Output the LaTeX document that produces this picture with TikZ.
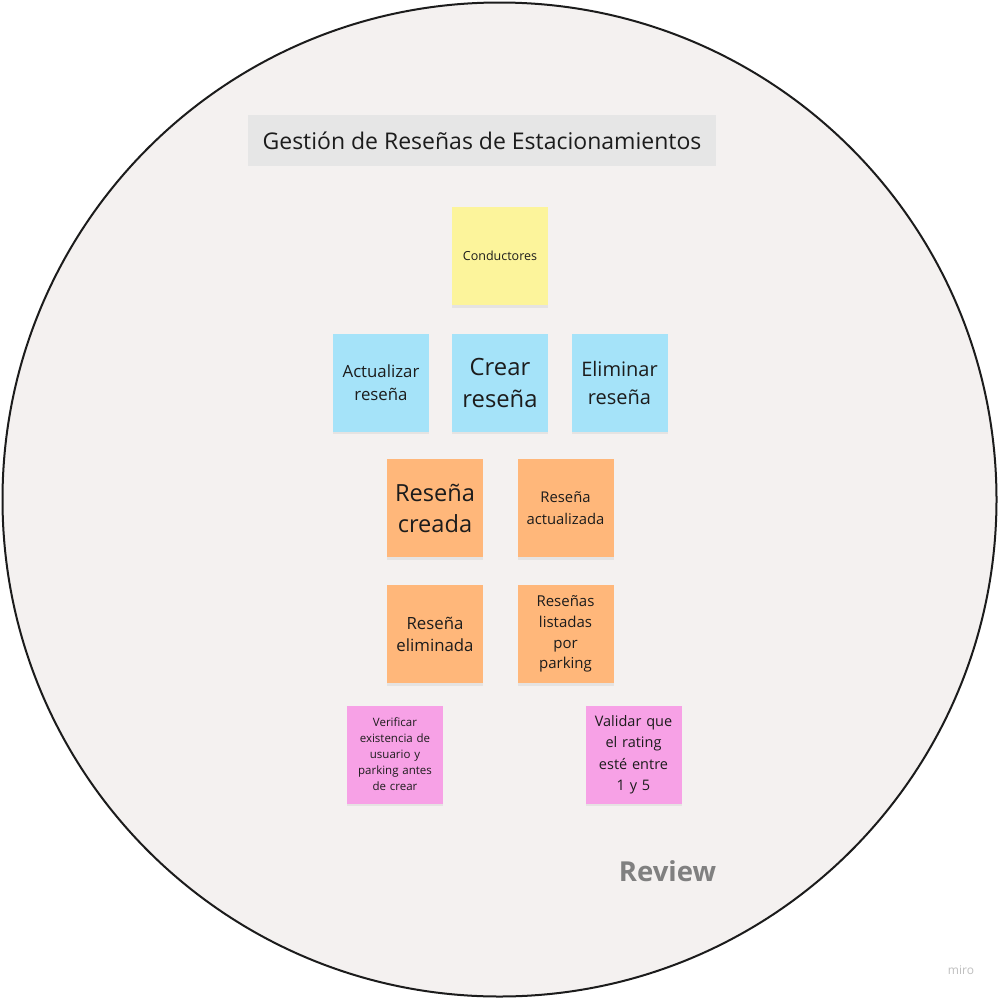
\documentclass[tikz,border=0pt]{standalone}
\usepackage{fontspec}
\setmainfont{Open Sans}
\usepackage{xcolor}
\usetikzlibrary{shadows}

\definecolor{board}{HTML}{F4F1F0}
\definecolor{titlegray}{HTML}{E6E6E6}
\definecolor{ink}{HTML}{1C1C1C}
\definecolor{noteyellow}{HTML}{FCF49B}
\definecolor{noteblue}{HTML}{A5E3F9}
\definecolor{noteorange}{HTML}{FFB77A}
\definecolor{notepink}{HTML}{F7A1E6}

\newcommand{\fsz}[2]{\fontsize{#1}{#2}\selectfont}

\begin{document}
\begin{tikzpicture}[x=1pt, y=-1pt,
  note/.style={minimum width=96pt, minimum height=98pt, inner sep=2pt,
    text width=90pt, align=center, text=ink,
    drop shadow={opacity=0.12, shadow xshift=0pt, shadow yshift=-2.5pt}},
  actor/.style={note, fill=noteyellow},
  command/.style={note, fill=noteblue},
  event/.style={note, fill=noteorange},
  policy/.style={note, fill=notepink}]
\useasboundingbox (0,0) rectangle (999,999);
\fill[white] (0,0) rectangle (999,999);

% board
\draw[line width=2pt, fill=board, draw=ink] (499.5,499.5) circle [radius=497pt];

% title
\node[fill=titlegray, minimum width=468pt, minimum height=51pt, inner sep=0pt,
  text=ink, font=\fsz{23}{27}] (title) at (482,140.5)
  {Gestión de Reseñas de Estacionamientos};

% actor
\node[actor, font=\fsz{12.5}{16}] (cond) at (500,256) {Conductores};

% commands
\node[command, font=\fsz{16.8}{23}] (actualizar) at (381,382.5) {Actualizar\\reseña};
\node[command, font=\fsz{23.8}{32}] (crear) at (500,382.5) {Crear\\reseña};
\node[command, font=\fsz{20}{28}] (eliminar) at (619.5,382.5) {Eliminar\\reseña};

% events
\node[event, font=\fsz{23.6}{31}] (creada) at (435,508) {Reseña\\creada};
\node[event, font=\fsz{14.8}{22}] (actualizada) at (565.5,508) {Reseña\\actualizada};
\node[event, font=\fsz{16.8}{22}] (eliminada) at (435,634) {Reseña\\eliminada};
\node[event, font=\fsz{15}{20.7}] (listadas) at (565.5,634) {Reseñas\\listadas\\por\\parking};

% policies
\node[policy, font=\fsz{11.5}{16}] (verificar) at (395,754.5)
  {Verificar\\existencia de\\usuario y\\parking antes\\de crear};
\node[policy, font=\fsz{14.5}{21.5}] (validar) at (633.5,754.5)
  {Validar que\\el rating\\esté entre\\1 y 5};

% labels
\node[font=\bfseries\fsz{27.5}{31}, text=black!50] (review) at (667.5,871) {Review};
\node[font=\fsz{12}{14}, text=black!25] (miro) at (961,970.5) {miro};
\end{tikzpicture}
\end{document}
